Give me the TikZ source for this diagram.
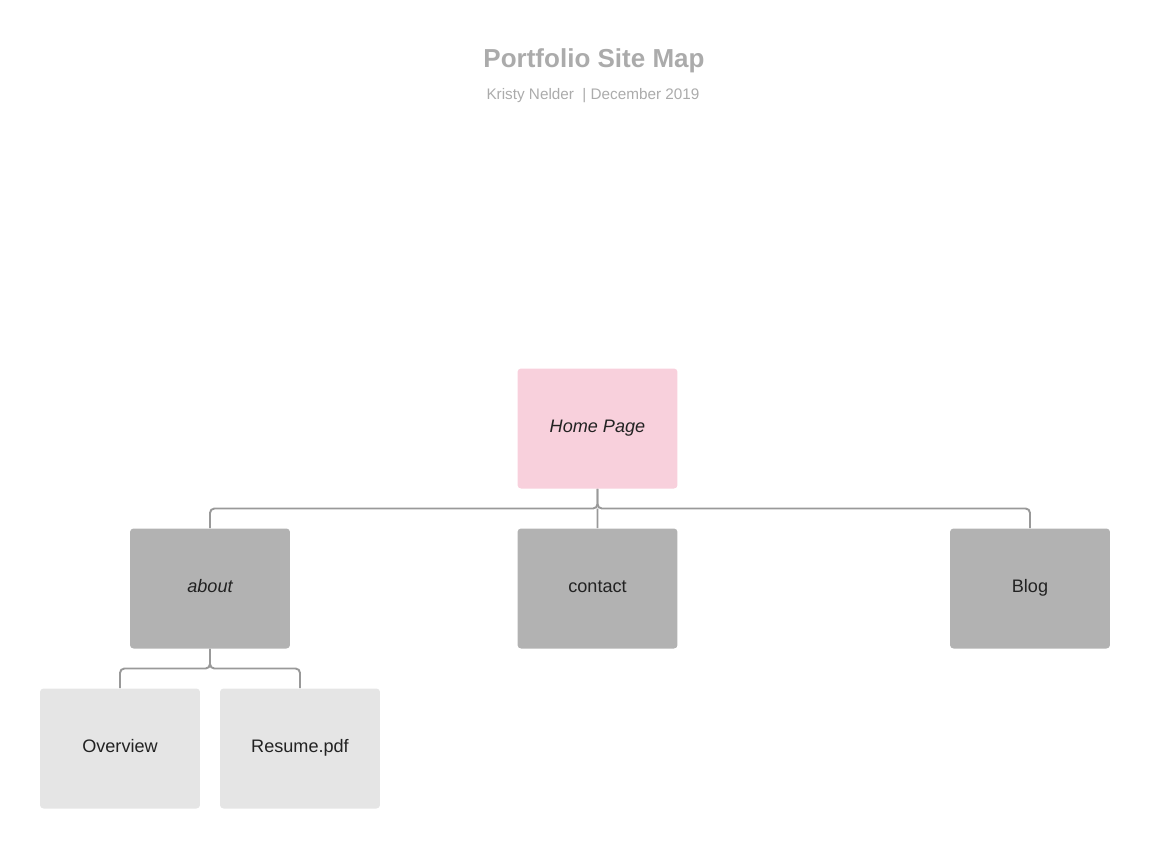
\documentclass[tikz,border=0pt]{standalone}
\usepackage{fontspec}
\setmainfont{Liberation Sans}
\usepackage{tikz}
\usetikzlibrary{positioning,calc}

\definecolor{homepink}{HTML}{F8D0DC}
\definecolor{pagegray}{HTML}{B2B2B2}
\definecolor{subgray}{HTML}{E5E5E5}
\definecolor{linegray}{HTML}{999999}
\definecolor{titlegray}{HTML}{ABABAB}
\definecolor{labelink}{HTML}{222222}

\begin{document}
\begin{tikzpicture}[x=0.02cm, y=-0.02cm,
    page/.style={rectangle, rounded corners=2pt, minimum width=3.2cm, minimum height=2.4cm,
                 inner sep=0pt, text height=7.4pt, text depth=2.6pt, text=labelink,
                 font=\fontsize{10.3}{12}\selectfont},
    conn/.style={draw=linegray, line width=1.1pt, rounded corners=2.5pt}]
    \useasboundingbox (0,0) rectangle (1150,850);
    % Title
    \node [text=titlegray, font=\fontsize{14.8}{18}\selectfont\bfseries] (title) at (594,61) {Portfolio Site Map};
    \node [text=titlegray, font=\fontsize{8.7}{10}\selectfont] (sub) at (593,96) {Kristy Nelder \ | December 2019};
    % Nodes
    \node [page, fill=homepink] (home) at (597.5,428.5) {\itshape Home Page};
    \node [page, fill=pagegray] (about) at (210,588.5) {\itshape about};
    \node [page, fill=pagegray] (contact) at (597.5,588.5) {contact};
    \node [page, fill=pagegray] (blog) at (1030,588.5) {Blog};
    \node [page, fill=subgray] (overview) at (120,748.5) {Overview};
    \node [page, fill=subgray] (resume) at (300,748.5) {Resume.pdf};
    % Connectors
    \coordinate (hbus) at ($(home.south)!.5!(contact.north)$);
    \coordinate (abus) at ($(about.south)!.5!(about.south |- overview.north)$);
    \draw [conn] (home.south) -- (hbus) -| (about.north);
    \draw [conn] (home.south) -- (hbus) -| (blog.north);
    \draw [conn] (hbus) -- (contact.north);
    \draw [conn] (about.south) -- (abus) -| (overview.north);
    \draw [conn] (about.south) -- (abus) -| (resume.north);
\end{tikzpicture}
\end{document}
